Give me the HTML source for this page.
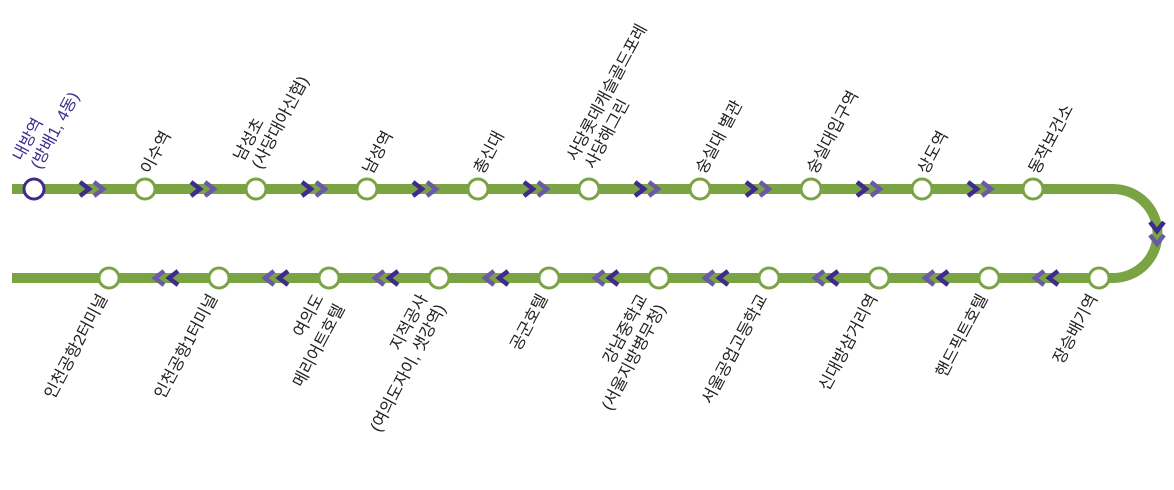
<!DOCTYPE html>
<html><head><meta charset="utf-8"><style>
html,body{margin:0;padding:0;background:#fff;}
svg text{font-family:"Liberation Sans","Noto Sans CJK KR",sans-serif;font-size:16.5px;fill:#222;}
</style></head><body>
<svg width="1174" height="485" viewBox="0 0 1174 485" xmlns="http://www.w3.org/2000/svg">
<path d="M12 189 H1113 A44.5 44.5 0 0 1 1113 278 H12" fill="none" stroke="#7aa343" stroke-width="10"/>
<g fill="none" stroke-width="4.5" stroke-linejoin="miter">
<g id="tc">
<polyline points="80,182 89,189 80,196" stroke="#3f2b8c"/>
<polyline points="94,182 103,189 94,196" stroke="#6a5aa5"/>
</g>
<use href="#tc" x="111"/><use href="#tc" x="222"/><use href="#tc" x="333"/><use href="#tc" x="444"/>
<use href="#tc" x="555"/><use href="#tc" x="666"/><use href="#tc" x="777"/><use href="#tc" x="888"/>
<g id="bc">
<polyline points="1058,271 1049,278 1058,285" stroke="#3f2b8c"/>
<polyline points="1044,271 1035,278 1044,285" stroke="#6a5aa5"/>
</g>
<use href="#bc" x="-110"/><use href="#bc" x="-220"/><use href="#bc" x="-330"/><use href="#bc" x="-440"/>
<use href="#bc" x="-550"/><use href="#bc" x="-660"/><use href="#bc" x="-770"/><use href="#bc" x="-880"/>
<polyline points="1150,222 1157,231 1164,222" stroke="#3f2b8c"/>
<polyline points="1150,235 1157,244 1164,235" stroke="#6a5aa5"/>
</g>
<g fill="#fff" stroke="#7aa343" stroke-width="3">
<circle cx="34" cy="189" r="10" stroke="#3f2b8c"/>
<circle cx="145" cy="189" r="10"/><circle cx="256" cy="189" r="10"/><circle cx="367" cy="189" r="10"/>
<circle cx="478" cy="189" r="10"/><circle cx="589" cy="189" r="10"/><circle cx="700" cy="189" r="10"/>
<circle cx="811" cy="189" r="10"/><circle cx="922" cy="189" r="10"/><circle cx="1033" cy="189" r="10"/>
<circle cx="1099" cy="278" r="10"/><circle cx="989" cy="278" r="10"/><circle cx="879" cy="278" r="10"/>
<circle cx="769" cy="278" r="10"/><circle cx="659" cy="278" r="10"/><circle cx="549" cy="278" r="10"/>
<circle cx="439" cy="278" r="10"/><circle cx="329" cy="278" r="10"/><circle cx="219" cy="278" r="10"/>
<circle cx="109" cy="278" r="10"/>
</g>
<g>
<text transform="translate(22,162) rotate(-62)" style="fill:#3f2b8c">내방역</text>
<text transform="translate(40,170) rotate(-62)" style="fill:#3f2b8c">(방배1, 4동)</text>
<text transform="translate(150,175) rotate(-62)">이수역</text>
<text transform="translate(243,162) rotate(-62)">남성초</text>
<text transform="translate(261,170) rotate(-62)">(사당대아신협)</text>
<text transform="translate(372,175) rotate(-62)">남성역</text>
<text transform="translate(483,175) rotate(-62)">총신대</text>
<text transform="translate(576,162) rotate(-62)">사당롯데캐슬골드포레</text>
<text transform="translate(594,170) rotate(-62)">사당해그린</text>
<text transform="translate(705,175) rotate(-62)">숭실대 별관</text>
<text transform="translate(816,175) rotate(-62)">숭실대입구역</text>
<text transform="translate(927,175) rotate(-62)">상도역</text>
<text transform="translate(1038,175) rotate(-62)">동작보건소</text>
</g>
<g text-anchor="end">
<text transform="translate(1098,298) rotate(-62)">장승배기역</text>
<text transform="translate(988,298) rotate(-62)">핸드픽트호텔</text>
<text transform="translate(878,298) rotate(-62)">신대방삼거리역</text>
<text transform="translate(768,298) rotate(-62)">서울공업고등학교</text>
<text transform="translate(648,298) rotate(-62)">강남중학교</text>
<text transform="translate(666,308) rotate(-62)">(서울지방병무청)</text>
<text transform="translate(548,298) rotate(-62)">공군호텔</text>
<text transform="translate(428,298) rotate(-62)">지적공사</text>
<text transform="translate(446,308) rotate(-62)">(여의도자이, 샛강역)</text>
<text transform="translate(324,298) rotate(-62)">여의도</text>
<text transform="translate(345,308) rotate(-62)">메리어트호텔</text>
<text transform="translate(218,298) rotate(-62)">인천공항1터미널</text>
<text transform="translate(108,298) rotate(-62)">인천공항2터미널</text>
</g>
</svg>
</body></html>
